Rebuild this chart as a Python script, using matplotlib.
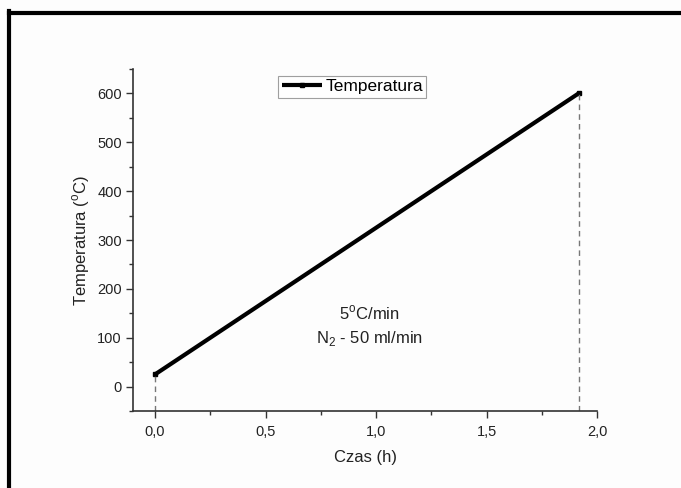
import matplotlib
matplotlib.use("Agg")
import matplotlib.pyplot as plt
from matplotlib.lines import Line2D
from matplotlib.ticker import MultipleLocator, FuncFormatter

plt.rcParams['font.family'] = ['Liberation Sans', 'DejaVu Sans']
plt.rcParams['mathtext.fontset'] = 'custom'
plt.rcParams['mathtext.rm'] = 'Liberation Sans'

time_h = [0.0, 1.9167]
temperature = [25, 600]
x_ticks = [0.0, 0.5, 1.0, 1.5, 2.0]
y_ticks = [0, 100, 200, 300, 400, 500, 600]

fig = plt.figure(figsize=(6.81, 4.88), dpi=100, facecolor='#fdfdfd')
ax = fig.add_axes([133/681, 1-411/488, (597-133)/681, (411-69)/488])
ax.set_facecolor('#fdfdfd')

ax.plot(time_h, temperature, color='black', lw=3, solid_capstyle='butt',
        marker='s', markersize=2.5, label='Temperatura')
for xv, yv in zip(time_h, temperature):
    ax.plot([xv, xv], [-50, yv], color='#777777', lw=1, ls=(0, (4, 3)))

ax.set_xlim(-0.1, 2.0)
ax.set_ylim(-50, 650)
ax.set_xticks(x_ticks)
ax.set_yticks(y_ticks)
ax.xaxis.set_minor_locator(MultipleLocator(0.25))
ax.yaxis.set_minor_locator(MultipleLocator(50))
ax.xaxis.set_major_formatter(FuncFormatter(lambda v, p: f"{v:.1f}".replace('.', ',')))

for s in ['top', 'right']:
    ax.spines[s].set_visible(False)
for s in ['left', 'bottom']:
    ax.spines[s].set_color('#333333')
    ax.spines[s].set_linewidth(1.2)
ax.tick_params(which='major', direction='out', length=5, width=1, colors='#333333',
               labelsize=10.5, labelcolor='#222222', pad=5)
ax.tick_params(axis='y', which='major', pad=3)
ax.tick_params(which='minor', direction='out', length=3, width=1, colors='#333333')

ax.set_xlabel('Czas (h)', fontsize=12, color='#222222', labelpad=8)
ax.set_ylabel('Temperatura ($^{\\mathrm{o}}$C)', fontsize=12, color='#222222', labelpad=4)

ax.text(0.97, 150, '5$^{\\mathrm{o}}$C/min', ha='center', va='center', fontsize=12, color='#222222')
ax.text(0.97, 98, 'N$_{\\mathrm{2}}$ - 50 ml/min', ha='center', va='center', fontsize=12, color='#222222')

leg = ax.legend(loc='upper center', bbox_to_anchor=(0.473, 0.98), frameon=True, fancybox=False,
                edgecolor='#888888', fontsize=12.5, handlelength=2.3, borderpad=0.2,
                handletextpad=0.2, borderaxespad=0)
leg.get_frame().set_linewidth(0.8)

# outer border (top and left)
fig.add_artist(Line2D([9/681, 9/681], [0, 1-11/488], color='black', lw=3, transform=fig.transFigure))
fig.add_artist(Line2D([9/681, 1], [1-12.5/488, 1-12.5/488], color='black', lw=3, transform=fig.transFigure))

fig.savefig('out.png', dpi=100, facecolor=fig.get_facecolor())
